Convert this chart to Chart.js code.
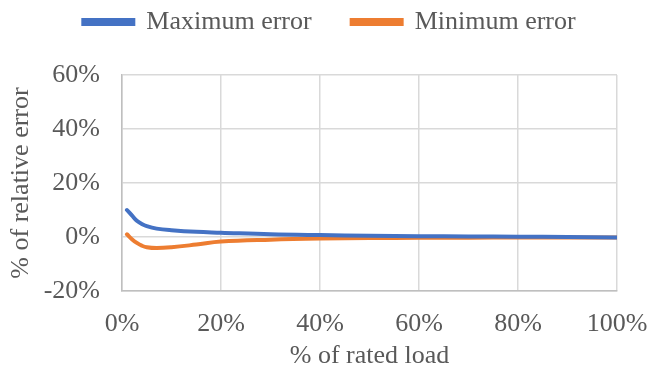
<!DOCTYPE html>
<html>
<head>
<meta charset="utf-8">
<script src="https://cdn.jsdelivr.net/npm/chart.js@4.4.1/dist/chart.umd.min.js"></script>
<style>
  html, body { margin: 0; padding: 0; background: #fff; }
  #wrap { width: 649px; height: 372px; }
</style>
</head>
<body>
<div id="wrap"><canvas id="errChart" width="649" height="372"></canvas></div>
<script>
// load in % of rated load
const loadPct = [1, 2, 3, 4, 5, 7, 10, 15, 20, 30, 40, 50, 60, 70, 80, 90, 100];
// relative error in %
const maxError = [10, 8, 6, 4.8, 4, 3.1, 2.5, 1.9, 1.6, 1.0, 0.7, 0.5, 0.3, 0.2, 0.1, 0, -0.2];
const minError = [1, -0.8, -2.2, -3.2, -3.8, -4.1, -3.8, -2.8, -1.7, -1.0, -0.6, -0.4, -0.3, -0.25, -0.2, -0.2, -0.2];

const xTicks = [0, 20, 40, 60, 80, 100];
const yTicks = [-20, 0, 20, 40, 60];

const font = { family: "'Liberation Serif', 'Times New Roman', serif", size: 26 };
const textColor = '#595959';

const toPoints = (xs, ys) => xs.map((x, i) => ({ x: x, y: ys[i] }));

// fixed legend band so the plot starts lower, and legend row pulled up
const legendGap = {
    id: 'legendGap',
    beforeInit(chart) {
        const fit = chart.legend.fit;
        chart.legend.fit = function () {
            fit.bind(chart.legend)();
            this.height = 75;
        };
    },
    afterLayout(chart) {
        chart.legend.top -= 31;
        chart.legend.left += 21;
        chart.legend.right += 21;
    },
};

new Chart(document.getElementById('errChart').getContext('2d'), {
    type: 'line',
    data: {
        datasets: [
            {
                label: 'Maximum error',
                data: toPoints(loadPct, maxError),
                borderColor: '#4472C4',
                backgroundColor: '#4472C4',
                borderWidth: 4,
                pointRadius: 0,
                tension: 0.4,
                borderCapStyle: 'round',
            },
            {
                label: 'Minimum error',
                data: toPoints(loadPct, minError),
                borderColor: '#ED7D31',
                backgroundColor: '#ED7D31',
                borderWidth: 4,
                pointRadius: 0,
                tension: 0.4,
                borderCapStyle: 'round',
            },
        ],
    },
    options: {
        responsive: false,
        animation: false,
        layout: { padding: { left: 0, right: 32, top: 0, bottom: 0 } },
        plugins: {
            legend: {
                position: 'top',
                labels: {
                    color: textColor,
                    font: font,
                    boxWidth: 50,
                    boxHeight: 4,
                    padding: 40,
                },
            },
            tooltip: { enabled: false },
        },
        scales: {
            x: {
                type: 'linear',
                min: 0,
                max: 100,
                afterBuildTicks: (axis) => { axis.ticks = xTicks.map(v => ({ value: v })); },
                afterFit: (axis) => {
                    axis.height = 81;
                    axis.paddingLeft = 0;
                    axis.paddingRight = 0;
                },
                ticks: {
                    color: textColor,
                    font: font,
                    padding: 18,
                    maxRotation: 0,
                    callback: (v) => v + '%',
                },
                grid: { color: '#D9D9D9', lineWidth: 1.5, drawTicks: false },
                border: { color: '#BFBFBF', width: 1.5 },
                title: {
                    display: true,
                    text: '% of rated load',
                    color: textColor,
                    font: font,
                    padding: { top: 2, bottom: 0 },
                },
            },
            y: {
                min: -20,
                max: 60,
                afterBuildTicks: (axis) => { axis.ticks = yTicks.map(v => ({ value: v })); },
                afterFit: (axis) => { axis.width = 122; },
                ticks: {
                    color: textColor,
                    font: font,
                    padding: 22,
                    callback: (v) => v + '%',
                },
                grid: { color: '#D9D9D9', lineWidth: 1.5, drawTicks: false },
                border: { color: '#BFBFBF', width: 1.5 },
                title: {
                    display: true,
                    text: '% of relative error',
                    color: textColor,
                    font: font,
                    padding: { top: 6, bottom: 0 },
                },
            },
        },
    },
    plugins: [legendGap],
});
</script>
</body>
</html>
